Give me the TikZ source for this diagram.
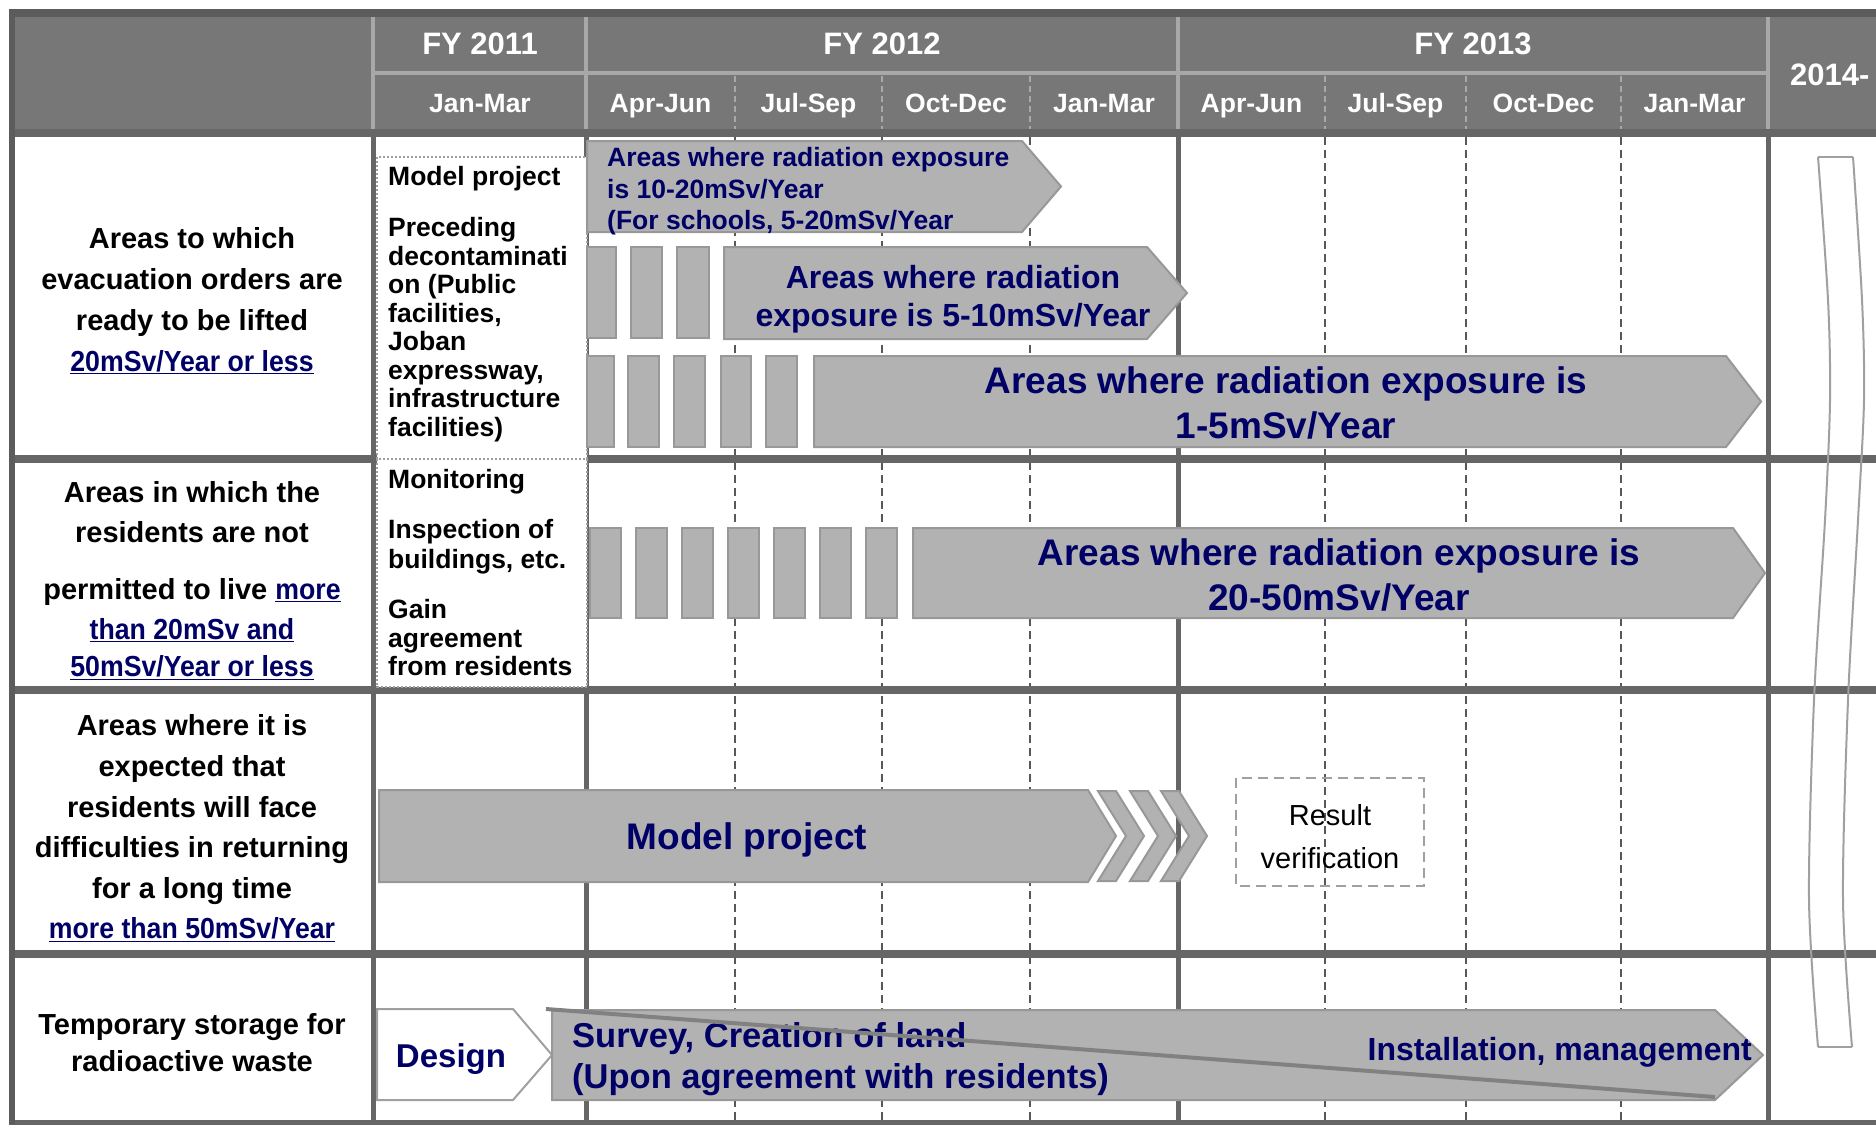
\documentclass[tikz,border=0pt]{standalone}
\usepackage{fontspec}
\setmainfont{Liberation Sans}
\newfontfamily\linkfont{Liberation Sans}[FakeStretch=0.92]
\definecolor{hdrgray}{RGB}{119,119,119}
\definecolor{hdrlight}{RGB}{168,168,168}
\definecolor{gridgray}{RGB}{102,102,102}
\definecolor{dashgray}{RGB}{88,88,88}
\definecolor{barfill}{RGB}{178,178,178}
\definecolor{barline}{RGB}{152,152,152}
\definecolor{boxline}{RGB}{160,160,160}
\definecolor{navy}{RGB}{0,0,102}
\newcommand{\lnk}[1]{\textcolor{navy}{\underline{\linkfont #1}}}

\begin{document}
\begin{tikzpicture}[x=1pt,y=-1pt,
    rowsep/.style={gridgray,line width=8pt},
    colsep/.style={gridgray,line width=5pt},
    qsep/.style={dashgray,line width=1.8pt,dash pattern=on 8pt off 5pt},
    hdrsep/.style={hdrlight,line width=4pt},
    hdrq/.style={hdrlight,line width=1.5pt,dash pattern=on 6pt off 4pt},
    bar/.style={fill=barfill,draw=barline,line width=2pt},
    hdrtxt/.style={text=white,font=\bfseries\fontsize{31}{37}\selectfont},
    qtxt/.style={text=white,font=\bfseries\fontsize{26.5}{32}\selectfont},
    rowtxt/.style={align=center,font=\bfseries\fontsize{29}{41}\selectfont},
    boxtxt/.style={align=left,font=\bfseries\fontsize{26.5}{28.5}\selectfont},
    bartxt/.style={text=navy,font=\bfseries\fontsize{37}{45}\selectfont}]
    \tikzstyle{every node}+=[inner sep=0pt]
    \clip (0,0) rectangle (1876,1124);
    \fill [white] (0,0) rectangle (1876,1124);
    \fill [hdrgray] (12,12) rectangle (1876,133);
    \draw [hdrsep] (373,17) -- (373,129);
    \draw [hdrsep] (586,17) -- (586,129);
    \draw [hdrsep] (1178,17) -- (1178,129);
    \draw [hdrsep] (1768,17) -- (1768,129);
    \draw [hdrsep] (373,73) -- (1768,73);
    \draw [hdrq] (735,76) -- (735,129);
    \draw [hdrq] (882,76) -- (882,129);
    \draw [hdrq] (1030,76) -- (1030,129);
    \draw [hdrq] (1325,76) -- (1325,129);
    \draw [hdrq] (1466,76) -- (1466,129);
    \draw [hdrq] (1621,76) -- (1621,129);
    \draw [qsep] (735,137) -- (735,1124);
    \draw [qsep] (882,137) -- (882,1124);
    \draw [qsep] (1030,137) -- (1030,1124);
    \draw [qsep] (1325,137) -- (1325,1124);
    \draw [qsep] (1466,137) -- (1466,1124);
    \draw [qsep] (1621,137) -- (1621,1124);
    \draw [colsep] (373,133) -- (373,1124);
    \draw [colsep] (586,133) -- (586,1124);
    \draw [colsep] (1178,133) -- (1178,1124);
    \draw [colsep] (1768,133) -- (1768,1124);
    \draw [rowsep, gridgray!90!black] (9,13) -- (1876,13);
    \draw [rowsep] (9,133) -- (1876,133);
    \draw [rowsep] (9,459) -- (1876,459);
    \draw [rowsep] (9,690) -- (1876,690);
    \draw [rowsep] (9,954) -- (1876,954);
    \draw [rowsep, line width=5pt] (9,1122) -- (1876,1122);
    \draw [gridgray!90!black, line width=6pt] (12,9) -- (12,1124);
    \draw (480,55) node [hdrtxt, anchor=base] (fy11) {FY 2011};
    \draw (882,55) node [hdrtxt, anchor=base] (fy12) {FY 2012};
    \draw (1473,55) node [hdrtxt, anchor=base] (fy13) {FY 2013};
    \draw (1790,85) node [hdrtxt, anchor=base west] (fy14) {2014-};
    \draw (480,112.5) node [qtxt, anchor=base] (janA) {Jan-Mar};
    \draw (660.5,112.5) node [qtxt, anchor=base] (aprA) {Apr-Jun};
    \draw (808.5,112.5) node [qtxt, anchor=base] (julA) {Jul-Sep};
    \draw (956,112.5) node [qtxt, anchor=base] (octA) {Oct-Dec};
    \draw (1104,112.5) node [qtxt, anchor=base] (janB) {Jan-Mar};
    \draw (1251.5,112.5) node [qtxt, anchor=base] (aprB) {Apr-Jun};
    \draw (1395.5,112.5) node [qtxt, anchor=base] (julB) {Jul-Sep};
    \draw (1543.5,112.5) node [qtxt, anchor=base] (octB) {Oct-Dec};
    \draw (1694.5,112.5) node [qtxt, anchor=base] (janC) {Jan-Mar};
    \draw (192,227) node [rowtxt, anchor=north] (rowone) {Areas to which\\evacuation orders are\\ready to be lifted\\\lnk{20mSv/Year or less}};
    \draw (192,481.6) node [rowtxt, anchor=north, font=\bfseries\fontsize{29}{40}\selectfont] (rowtwo) {Areas in which the\\residents are not\\[17pt]permitted to live \lnk{more}\\\lnk{than 20mSv and}\\[-3pt]\lnk{50mSv/Year or less}};
    \draw (192,714.6) node [rowtxt, anchor=north, font=\bfseries\fontsize{29}{40.6}\selectfont] (rowthree) {Areas where it is\\expected that\\residents will face\\difficulties in returning\\for a long time\\\lnk{more than 50mSv/Year}};
    \draw (192,1013.6) node [rowtxt, anchor=north, font=\bfseries\fontsize{29}{37}\selectfont] (rowfour) {Temporary storage for\\radioactive waste};
    \draw [fill=white, draw=boxline, line width=2.5pt, dash pattern=on 2pt off 2pt] (377,157) rectangle (587,459);
    \draw [fill=white, draw=boxline, line width=2.5pt, dash pattern=on 2pt off 2pt] (377,459) rectangle (587,687);
    \draw (388,166.5) node [boxtxt, anchor=north west] (modeltxt) {Model project\\[22.5pt]Preceding\\decontaminati\\on (Public\\facilities,\\Joban\\expressway,\\infrastructure\\facilities)};
    \draw (388,469.5) node [boxtxt, anchor=north west] (monitortxt) {Monitoring\\[21.5pt]Inspection of\\[1.5pt]buildings, etc.\\[21.5pt]Gain\\agreement\\from residents};
    \draw [bar] (587,141) -- (1022,141) -- (1061,186.5) -- (1022,232) -- (587,232) -- cycle;
    \draw [bar] (587,247) rectangle (616,338);
    \draw [bar] (631,247) rectangle (662,338);
    \draw [bar] (677,247) rectangle (709,338);
    \draw [bar] (724,247) -- (1147,247) -- (1187,293) -- (1147,339) -- (724,339) -- cycle;
    \draw [bar] (587,356) rectangle (614,447);
    \draw [bar] (628,356) rectangle (659,447);
    \draw [bar] (674,356) rectangle (705,447);
    \draw [bar] (721,356) rectangle (751,447);
    \draw [bar] (766,356) rectangle (797,447);
    \draw [bar] (814,356) -- (1726,356) -- (1761,401.5) -- (1726,447) -- (814,447) -- cycle;
    \draw [bar] (590,528) rectangle (621,618);
    \draw [bar] (636,528) rectangle (667,618);
    \draw [bar] (682,528) rectangle (713,618);
    \draw [bar] (728,528) rectangle (759,618);
    \draw [bar] (774,528) rectangle (805,618);
    \draw [bar] (820,528) rectangle (851,618);
    \draw [bar] (866,528) rectangle (897,618);
    \draw [bar] (913,528) -- (1733,528) -- (1765,573) -- (1733,618) -- (913,618) -- cycle;
    \draw [bar] (379,790) -- (1088,790) -- (1116,836) -- (1088,882) -- (379,882) -- cycle;
    \draw [bar] (1098,791) -- (1116,791) -- (1144,836) -- (1116,881) -- (1098,881) -- (1126,836) -- cycle;
    \draw [bar] (1130,791) -- (1148,791) -- (1176,836) -- (1148,881) -- (1130,881) -- (1158,836) -- cycle;
    \draw [bar] (1161,791) -- (1179,791) -- (1207,836) -- (1179,881) -- (1161,881) -- (1189,836) -- cycle;
    \draw [draw=boxline, line width=2.5pt, dash pattern=on 10pt off 6pt] (1236,778) rectangle (1424,886);
    \draw [fill=white, draw=boxline, line width=2pt] (377,1009) -- (513,1009) -- (552,1055) -- (513,1100) -- (377,1100) -- cycle;
    \draw [bar] (552,1010) -- (1715,1010) -- (1763,1055) -- (1715,1100) -- (552,1100) -- cycle;
    \draw (607,147.5) node [bartxt, anchor=north west, align=left, font=\bfseries\fontsize{26.5}{31.5}\selectfont] (tenbar) {Areas where radiation exposure\\is 10-20mSv/Year\\(For schools, 5-20mSv/Year};
    \draw (953,265.5) node [bartxt, anchor=north, align=center, font=\bfseries\fontsize{32}{38}\selectfont] (fivebar) {Areas where radiation\\exposure is 5-10mSv/Year};
    \draw (1286,366.7) node [bartxt, anchor=north, align=center] (onebar) {Areas where radiation exposure is\\1-5mSv/Year};
    \draw (1339,538.7) node [bartxt, anchor=north, align=center] (twentybar) {Areas where radiation exposure is\\20-50mSv/Year};
    \draw (747,849.3) node [bartxt, anchor=base] (modelbar) {Model project};
    \draw (1330,804.6) node [anchor=north, align=center, font=\fontsize{29}{43}\selectfont] (resulttxt) {Result\\verification};
    \draw (451,1067) node [bartxt, anchor=base, font=\bfseries\fontsize{33}{40}\selectfont] (designtxt) {Design};
    \draw (572,1021.8) node [bartxt, anchor=north west, align=left, font=\bfseries\fontsize{34.5}{41}\selectfont] (surveytxt) {Survey, Creation of land\\(Upon agreement with residents)};
    \draw (1752,1060.5) node [bartxt, anchor=base east, font=\bfseries\fontsize{32}{38}\selectfont] (installtxt) {Installation, management};
    \draw [barline!85!black, line width=4pt] (546,1009) -- (1715,1097);
    \draw [boxline, line width=2pt] (1818,157) -- (1853,157);
    \draw [boxline, line width=2pt] plot [smooth] coordinates {(1853,157) (1862,300) (1864,400) (1858,520) (1848,700) (1843,900) (1852,1047)};
    \draw [boxline, line width=2pt] plot [smooth] coordinates {(1818,157) (1828,300) (1830,400) (1825,520) (1814,700) (1809,900) (1818,1047)};
    \draw [boxline, line width=2pt] (1818,1047) -- (1852,1047);
\end{tikzpicture}
\end{document}
